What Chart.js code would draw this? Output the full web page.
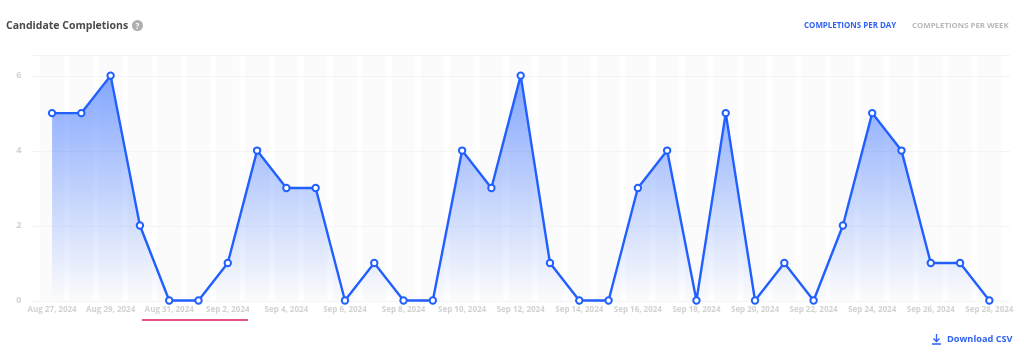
<!DOCTYPE html>
<html>
<head>
<meta charset="utf-8">
<title>Candidate Completions</title>
<script src="https://cdn.jsdelivr.net/npm/chart.js@4/dist/chart.umd.min.js"></script>
<style>
  html, body { margin: 0; padding: 0; background: #fff; overflow: hidden; }
  body { width: 1024px; height: 356px; position: relative; font-family: "Open Sans", sans-serif; }
  canvas { position: absolute; left: 0; top: 0; }
  .txt { position: absolute; white-space: nowrap; font-weight: 700; }
  #title { left: 6px; top: 16px; font-size: 10.5px; line-height: 18px; color: #4a4a4a; }
  #help { left: 132px; top: 20px; width: 11px; height: 11px; border-radius: 50%; background: #aeaeae;
          color: #fff; font-size: 8px; line-height: 11px; text-align: center; }
  #perDay { left: 804px; top: 18px; font-size: 7.95px; line-height: 14px; color: #2f62f5; }
  #perWeek { left: 912px; top: 18px; font-size: 7.85px; line-height: 14px; color: #b9b9b9; }
  #csv { left: 947px; top: 331px; font-size: 9.2px; line-height: 15px; color: #2f62f5; }
  #csvIcon { position: absolute; left: 931px; top: 333px; }
  #mark { position: absolute; left: 142px; top: 319px; width: 106px; height: 2px; background: #e8548a; }
</style>
</head>
<body>
<canvas id="lineChart" width="1024" height="356"></canvas>
<div class="txt" id="title">Candidate Completions</div>
<div class="txt" id="help">?</div>
<div class="txt" id="perDay">COMPLETIONS PER DAY</div>
<div class="txt" id="perWeek">COMPLETIONS PER WEEK</div>
<svg id="csvIcon" width="11" height="12" viewBox="0 0 11 12">
  <path d="M5.5 1v7M2.5 5.5l3 3 3-3M1 11h9" fill="none" stroke="#2f62f5" stroke-width="1.3"/>
</svg>
<div class="txt" id="csv">Download CSV</div>
<div id="mark"></div>
<script>
// Dates along the x axis, one per day
const dates = [
  'Aug 27, 2024', 'Aug 28, 2024', 'Aug 29, 2024', 'Aug 30, 2024', 'Aug 31, 2024',
  'Sep 1, 2024', 'Sep 2, 2024', 'Sep 3, 2024', 'Sep 4, 2024', 'Sep 5, 2024',
  'Sep 6, 2024', 'Sep 7, 2024', 'Sep 8, 2024', 'Sep 9, 2024', 'Sep 10, 2024',
  'Sep 11, 2024', 'Sep 12, 2024', 'Sep 13, 2024', 'Sep 14, 2024', 'Sep 15, 2024',
  'Sep 16, 2024', 'Sep 17, 2024', 'Sep 18, 2024', 'Sep 19, 2024', 'Sep 20, 2024',
  'Sep 21, 2024', 'Sep 22, 2024', 'Sep 23, 2024', 'Sep 24, 2024', 'Sep 25, 2024',
  'Sep 26, 2024', 'Sep 27, 2024', 'Sep 28, 2024'
];

const completions = [
  5, 5, 6, 2, 0, 0, 1, 4, 3, 3, 0, 1, 0, 0, 4, 3, 6,
  1, 0, 0, 3, 4, 0, 5, 0, 1, 0, 2, 5, 4, 1, 1, 0
];

const yTicks = [0, 2, 4, 6];

// Pale day stripes and the horizontal lines go behind the datasets
const backdrop = {
  id: 'backdrop',
  beforeDatasetsDraw(chart) {
    const { ctx, chartArea, scales } = chart;
    const stripe = (scales.x.getPixelForValue(1) - scales.x.getPixelForValue(0)) * 0.8;
    ctx.save();
    ctx.fillStyle = '#fbfbfb';
    dates.forEach((d, i) => {
      const cx = scales.x.getPixelForValue(i);
      ctx.fillRect(cx - stripe / 2, chartArea.top, stripe, chartArea.bottom - chartArea.top);
    });
    ctx.strokeStyle = '#f4f4f4';
    ctx.lineWidth = 1;
    [...yTicks, scales.y.max].forEach(v => {
      const y = Math.round(scales.y.getPixelForValue(v)) + 0.5;
      ctx.beginPath();
      ctx.moveTo(32, y);
      ctx.lineTo(1010, y);
      ctx.stroke();
    });
    ctx.restore();
  }
};

const ctx = document.getElementById('lineChart').getContext('2d');
const myChart = new Chart(ctx, {
  type: 'line',
  data: {
    labels: dates,
    datasets: [{
      data: completions,
      clip: false,
      borderColor: '#2160ff',
      borderWidth: 2.4,
      borderJoinStyle: 'round',
      tension: 0,
      fill: true,
      backgroundColor(context) {
        const area = context.chart.chartArea;
        if (!area) return 'transparent';
        const y6 = context.chart.scales.y.getPixelForValue(6);
        const g = context.chart.ctx.createLinearGradient(0, y6, 0, area.bottom);
        g.addColorStop(0, 'rgba(33, 96, 255, 0.55)');
        g.addColorStop(1, 'rgba(33, 96, 255, 0)');
        return g;
      },
      pointRadius: 3.2,
      pointBorderWidth: 2,
      pointBorderColor: '#2160ff',
      pointBackgroundColor: '#ffffff'
    }]
  },
  options: {
    responsive: false,
    animation: false,
    layout: { padding: { left: 0, right: 20, top: 55, bottom: 0 } },
    plugins: {
      legend: { display: false },
      title: { display: false },
      tooltip: { enabled: false }
    },
    scales: {
      x: {
        offset: true,
        grid: { display: false, drawTicks: false },
        border: { display: false },
        afterFit(axis) { axis.height = 55.5; },
        ticks: {
          autoSkip: false,
          maxRotation: 0,
          padding: 4,
          color: '#d2d2d2',
          font: { family: 'Open Sans', size: 8, weight: 700 },
          callback(value, index) {
            return index % 2 === 0 ? this.getLabelForValue(value) : '';
          }
        }
      },
      y: {
        min: 0,
        max: 6.55,
        grid: { display: false, drawTicks: false },
        border: { display: false },
        afterFit(axis) { axis.width = 37.4; },
        afterBuildTicks(axis) { axis.ticks = yTicks.map(v => ({ value: v })); },
        ticks: {
          padding: 16,
          color: '#d2d2d2',
          font: { family: 'Open Sans', size: 9, weight: 700 }
        }
      }
    }
  },
  plugins: [backdrop]
});
</script>
</body>
</html>
